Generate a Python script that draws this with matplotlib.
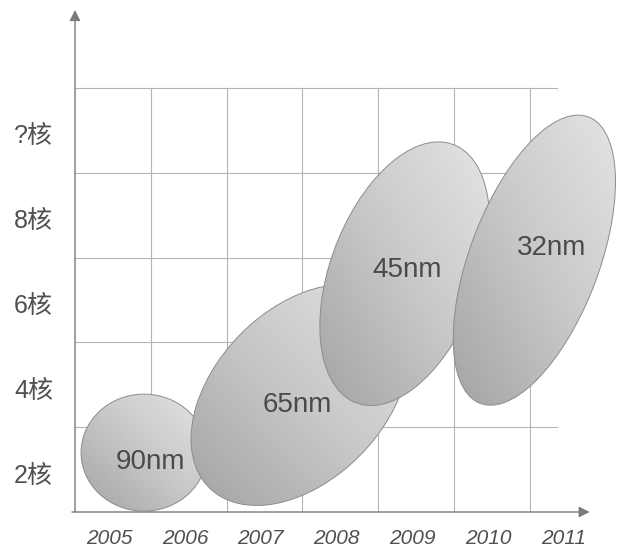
import numpy as np
import matplotlib
matplotlib.use('Agg')
import matplotlib.pyplot as plt
from matplotlib.patches import Ellipse
from matplotlib.colors import LinearSegmentedColormap

plt.rcParams['font.family'] = ['Liberation Sans', 'Noto Sans CJK SC', 'DejaVu Sans']

# eje x: años (una columna por año), eje y: número de núcleos (una fila por nivel)
years = ['2005', '2006', '2007', '2008', '2009', '2010', '2011']
cores = ['2核', '4核', '6核', '8核', '?核']

# procesos de fabricación: centro (columna, fila), ancho, alto, ángulo
procesos = ['90nm', '65nm', '45nm', '32nm']
centro_x = [0.91, 2.97, 4.35, 6.06]
centro_y = [0.70, 1.38, 2.81, 2.97]
ancho = [1.66, 3.26, 3.31, 3.67]
alto = [1.38, 2.11, 1.93, 1.68]
angulo = [0, 38, 65, 66]
texto_x = [0.99, 2.93, 4.38, 6.29]
texto_y = [0.59, 1.26, 2.85, 3.11]

fig = plt.figure(figsize=(6.19, 5.52), dpi=100)
ax = fig.add_axes([75 / 619, 40 / 552, 544 / 619, 512 / 552])
ax.set_xlim(0, 544 / 75.8)
ax.set_ylim(0, 512 / 84.8)
ax.axis('off')

n_cols = len(years)
n_rows = len(cores)
grid_right = 6.36
gris = '#b4b4b4'

# rejilla
for i in range(1, n_cols):
    ax.plot([i, i], [0, n_rows], color=gris, lw=0.8, zorder=1)
for j in range(1, n_rows + 1):
    ax.plot([0, grid_right], [j, j], color=gris, lw=0.8, zorder=1)

# ejes con flechas
flecha = dict(arrowstyle='-|>', color='#7a7a7a', lw=1.0, mutation_scale=16,
              shrinkA=0, shrinkB=0)
ax.annotate('', xy=(0, 5.92), xytext=(0, 0), arrowprops=flecha, zorder=2,
            annotation_clip=False)
ax.annotate('', xy=(6.79, 0), xytext=(-0.04, 0), arrowprops=flecha, zorder=2,
            annotation_clip=False)

# etiquetas de los ejes
for i, y in enumerate(years):
    ax.text(i + 0.45, -0.31, y, ha='center', va='center', fontsize=15,
            style='italic', color='#505050', clip_on=False)
for j, c in enumerate(cores):
    ax.text(-0.29, j + 0.43, c, ha='right', va='center', fontsize=18,
            color='#505050', clip_on=False)

# elipses con degradado gris
cmap = LinearSegmentedColormap.from_list('gris', ['#a4a4a4', '#c8c8c8', '#e4e4e4'])
gx, gy = np.meshgrid(np.linspace(0, 1, 200), np.linspace(0, 1, 200))
grad = (gx + gy) / 2

for k in range(len(procesos)):
    e = Ellipse((centro_x[k], centro_y[k]), ancho[k], alto[k], angle=angulo[k],
                facecolor='none', edgecolor='#8c8c8c', lw=0.7, zorder=3 + k)
    ax.add_patch(e)
    bb = e.get_window_extent().transformed(ax.transData.inverted())
    im = ax.imshow(grad, extent=[bb.x0, bb.x1, bb.y0, bb.y1], origin='lower',
                   cmap=cmap, vmin=0, vmax=1, aspect='auto', zorder=3 + k,
                   interpolation='bilinear')
    im.set_clip_path(e)
    e.set_zorder(3.5 + k)
    ax.text(texto_x[k], texto_y[k], procesos[k], ha='center', va='center',
            fontsize=20, color='#4a4a4a', zorder=3.6 + k)

ax.set_xlim(0, 544 / 75.8)
ax.set_ylim(0, 512 / 84.8)

plt.savefig('out.png', dpi=100)
